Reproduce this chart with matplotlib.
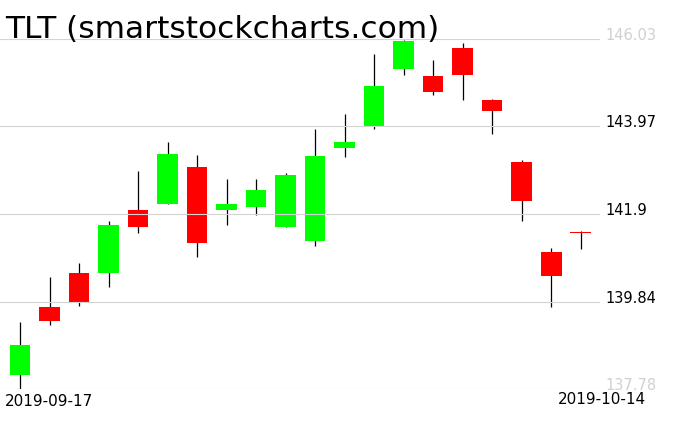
import matplotlib
matplotlib.use("Agg")
import matplotlib.pyplot as plt
import numpy as np

# daily candles, TLT 2019-09-17 .. 2019-10-14
dates = ["2019-09-17", "2019-09-18", "2019-09-19", "2019-09-20", "2019-09-23",
         "2019-09-24", "2019-09-25", "2019-09-26", "2019-09-27", "2019-09-30",
         "2019-10-01", "2019-10-02", "2019-10-03", "2019-10-04", "2019-10-07",
         "2019-10-08", "2019-10-09", "2019-10-10", "2019-10-11", "2019-10-14"]
opens = [138.11, 139.71, 140.52, 140.51, 142.01, 142.15, 143.02, 142.01, 142.06, 141.61,
         141.26, 143.45, 143.97, 145.33, 145.16, 145.82, 144.59, 143.14, 141.00, 141.49]
highs = [139.37, 140.43, 140.76, 141.75, 142.92, 143.61, 143.30, 142.74, 142.74, 142.86,
         143.91, 144.27, 145.68, 146.00, 145.54, 145.94, 144.62, 143.18, 141.11, 141.51]
lows = [137.78, 139.28, 139.73, 140.18, 141.45, 142.13, 140.88, 141.64, 141.87, 141.59,
        141.14, 143.24, 143.90, 145.19, 144.70, 144.60, 143.78, 141.73, 139.72, 141.07]
closes = [138.81, 139.38, 139.80, 141.65, 141.61, 143.32, 141.21, 142.15, 142.48, 142.83,
          143.28, 143.61, 144.92, 145.98, 144.77, 145.17, 144.34, 142.21, 140.44, 141.45]
levels = [137.78, 139.84, 141.9, 143.97, 146.03]
level_labels = ["137.78", "139.84", "141.9", "143.97", "146.03"]

W, H = 676, 431
fig = plt.figure(figsize=(W / 100, H / 100), dpi=100)
# plot area: x 0..600 px, y 40..390 px
ax = fig.add_axes([0, (H - 390) / H, 600 / W, 350 / H])

x = np.arange(len(dates))
o = np.array(opens)
c = np.array(closes)
up = c >= o
colors = np.where(up, "#00ff00", "#ff0000")

ax.vlines(x, lows, highs, color="black", linewidth=0.9, zorder=1)
ax.bar(x, np.maximum(np.abs(c - o), 0.03), bottom=np.minimum(o, c), width=0.71,
       color=colors, zorder=2)

# grid drawn over the candles
for lv in levels:
    ax.axhline(lv, color="#d3d3d3", linewidth=0.8, zorder=3)

ax.set_xlim(-0.678, 19.66)
ax.set_ylim(levels[0], levels[-1])
ax.axis("off")

# price labels on the right, top and bottom in light grey
for lv, lab in zip(levels, level_labels):
    col = "#d0d0d0" if lv in (levels[0], levels[-1]) else "black"
    ax.text(605 / 600, lv, lab, transform=ax.get_yaxis_transform(), ha="left",
            va="baseline", fontsize=10.5, color=col, clip_on=False)

fig.text(5 / W, 1 - 38 / H, "TLT (smartstockcharts.com)", fontsize=22.5,
         ha="left", va="baseline", color="black")
fig.text(5 / W, 1 - 406 / H, dates[0], fontsize=11, ha="left", va="baseline")
fig.text(646 / W, 1 - 404 / H, dates[-1], fontsize=11, ha="right", va="baseline")

fig.savefig("out.png", dpi=100)
